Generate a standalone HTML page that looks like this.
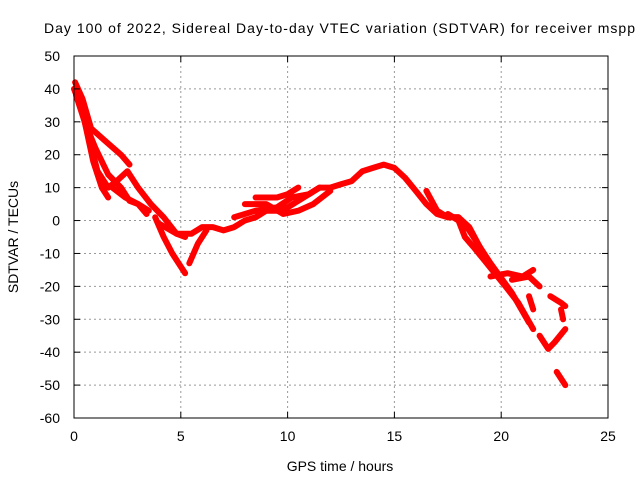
<!DOCTYPE html>
<html><head><meta charset="utf-8"><style>
body{margin:0;background:#fff}
svg text{font-family:"Liberation Sans",sans-serif;font-size:14px;fill:#000}
</style></head><body>
<svg id="chart" width="640" height="480" xmlns="http://www.w3.org/2000/svg">
<rect width="640" height="480" fill="#fff"/>
<text x="44" y="33" textLength="591" lengthAdjust="spacing">Day 100 of 2022, Sidereal Day-to-day VTEC variation (SDTVAR) for receiver mspp</text>
<text x="340" y="471" text-anchor="middle">GPS time / hours</text>
<text transform="translate(18,237) rotate(-90)" text-anchor="middle">SDTVAR / TECUs</text>
<g id="grid"></g><g id="series"></g><g id="axes"></g>
</svg>
<script>
const xTicks=[0,5,10,15,20,25];
const yTicks=[50,40,30,20,10,0,-10,-20,-30,-40,-50,-60];
const traceA_h=[0.05,0.4,0.8,1.5,2.2,2.6];
const traceA_v=[42,37,28,24,20,17];
const traceB_h=[0,0.3,0.7,1.1,1.6,2.0,2.5,3.0,3.6,4.2,4.8,5.2];
const traceB_v=[40,35,25,15,10,12,15,10,5,1,-4,-5];
const traceC_h=[0.1,0.5,0.9,1.3,1.6];
const traceC_v=[38,30,18,10,7];
const traceD_h=[0.5,1.0,1.6,2.2,2.6,3.0,3.5];
const traceD_v=[30,22,14,10,6,5,3];
const traceE_h=[1.8,2.4,3.0,3.4];
const traceE_v=[10,7,5,2];
const traceF_h=[3.8,4.2,4.6,5.0,5.2];
const traceF_v=[1,-5,-10,-14,-16];
const traceG_h=[4,4.8,5.5,6,6.5,7,7.5,8,8.5,9,9.5,10,10.5,11,11.5,12,12.5,13,13.5,14,14.5,15,15.5,16,16.5,17,17.5,18,18.5,19,19.5,20];
const traceG_v=[-1,-4,-4,-2,-2,-3,-2,0,1,3,3,4,6,8,10,10,11,12,15,16,17,16,13,9,5,2,1,1,-3,-8,-14,-18];
const traceH_h=[5.4,5.8,6.2];
const traceH_v=[-13,-7,-3];
const traceI_h=[7.5,8.5,9.5,10.2,11,11.5];
const traceI_v=[1,3,4,7,8,10];
const traceJ_h=[8,9,9.8,10.5,11.2,12];
const traceJ_v=[5,5,2,3,5,9];
const traceK_h=[8.5,9.5,10,10.5];
const traceK_v=[7,7,8,10];
const traceL_h=[16.5,17,17.5,18,18.5,19,19.5,20.5,21.3];
const traceL_v=[9,3,1,1,-2,-8,-13,-22,-31];
const traceM_h=[17.5,18,18.3,18.7,19.2,19.7,20.2,20.8,21.5];
const traceM_v=[2,0,-5,-8,-12,-16,-20,-25,-33];
const traceN_h=[19.5,20.3,21,21.5];
const traceN_v=[-17,-16,-17,-15];
const traceO_h=[20.5,21.3,21.8];
const traceO_v=[-18,-17,-20];
const traceP_h=[21.8,22.2,22.5,23];
const traceP_v=[-35,-39,-37,-33];
const traceQ_h=[22.3,22.8,23];
const traceQ_v=[-23,-25,-26];
const traceR_h=[22.6,23];
const traceR_v=[-46,-50];
const traceS_h=[21.3,21.5];
const traceS_v=[-23,-27];
const traceT_h=[22.8,22.9];
const traceT_v=[-27,-30];

const X0=74,X1=608,Y0=418,Y1=56;
const xs=h=>X0+(h-0)/(25-0)*(X1-X0);
const ys=v=>Y0-(v-(-60))/(50-(-60))*(Y0-Y1);
const NS="http://www.w3.org/2000/svg";
function mk(tag,attrs,parent){const e=document.createElementNS(NS,tag);for(const k in attrs)e.setAttribute(k,attrs[k]);parent.appendChild(e);return e;}
const grid=document.getElementById('grid'),axes=document.getElementById('axes'),ser=document.getElementById('series');
xTicks.forEach(t=>{
  const x=xs(t);
  if(t>0&&t<25){const l=mk('line',{x1:x,y1:Y0,x2:x,y2:Y1,stroke:'#999','stroke-dasharray':'2,3'},grid);
  
  }
  mk('line',{x1:x,y1:Y0,x2:x,y2:Y0-6,stroke:'#000'},axes);
  mk('line',{x1:x,y1:Y1,x2:x,y2:Y1+6,stroke:'#000'},axes);
  const tx=mk('text',{x:x,y:Y0+23,'text-anchor':'middle'},axes);tx.textContent=t;
  
  
});
yTicks.forEach(t=>{
  const y=ys(t);
  if(t<50&&t>-60){const l=mk('line',{x1:X0,y1:y,x2:X1,y2:y,stroke:'#999','stroke-dasharray':'2,3'},grid);
  
  }
  mk('line',{x1:X0,y1:y,x2:X0+6,y2:y,stroke:'#000'},axes);
  mk('line',{x1:X1,y1:y,x2:X1-6,y2:y,stroke:'#000'},axes);
  const tx=mk('text',{x:X0-14,y:y+5,'text-anchor':'end'},axes);tx.textContent=t;
  
  
});
const frame=mk('rect',{x:X0,y:Y1,width:X1-X0,height:Y0-Y1,fill:'none',stroke:'#000'},axes);


const traces=[[traceA_h,traceA_v],[traceB_h,traceB_v],[traceC_h,traceC_v],[traceD_h,traceD_v],[traceE_h,traceE_v],[traceF_h,traceF_v],[traceG_h,traceG_v],[traceH_h,traceH_v],[traceI_h,traceI_v],[traceJ_h,traceJ_v],[traceK_h,traceK_v],[traceL_h,traceL_v],[traceM_h,traceM_v],[traceN_h,traceN_v],[traceO_h,traceO_v],[traceP_h,traceP_v],[traceQ_h,traceQ_v],[traceR_h,traceR_v],[traceS_h,traceS_v],[traceT_h,traceT_v]];
traces.forEach(([h,v])=>{
  const pts=h.map((x,i)=>xs(x).toFixed(1)+','+ys(v[i]).toFixed(1)).join(' ');
  const p=mk('polyline',{points:pts,fill:'none',stroke:'#f00','stroke-width':6,'stroke-linejoin':'round','stroke-linecap':'round'},ser);
  
  
});
</script>
</body></html>
